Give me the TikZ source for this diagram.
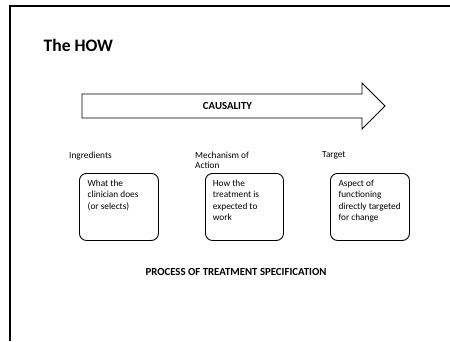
\documentclass[tikz,border=0pt]{standalone}
\usepackage{fontspec}
\setmainfont{Carlito}
\begin{document}
\begin{tikzpicture}[x=1pt,y=-1pt,
  frameline/.style={line width=2pt,black},
  stagebox/.style={draw,line width=0.9pt,rounded corners=7pt,minimum width=79pt,minimum height=67pt,inner sep=0pt,anchor=north west},
  boxtext/.style={anchor=north west,inner sep=0pt,align=left,font=\fontsize{9.3}{11.3}\selectfont},
  stagelabel/.style={anchor=north west,inner sep=0pt,align=left,font=\fontsize{9.3}{10.5}\selectfont},
  boldcaps/.style={inner sep=0pt,font=\bfseries\fontsize{10.8}{13}\selectfont}]
  \useasboundingbox (0,0) rectangle (450,341);
  \fill[white] (0,0) rectangle (450,341);

  % slide frame
  \draw[frameline] (450,5.8) -- (9.5,5.8) -- (9.5,341);

  % title
  \node[anchor=base west,inner sep=0pt,font=\bfseries\fontsize{17.5}{21}\selectfont] (title) at (43.5,51.7) {The HOW};

  % causality arrow
  \draw[line width=0.8pt] (82,94) -- (362,94) -- (362,83) -- (385,106) -- (362,129) -- (362,118) -- (82,118) -- cycle;
  \node[boldcaps] (causality) at (227.5,106) {CAUSALITY};

  % stage labels
  \node[stagelabel] (ingr) at (69,151.5) {Ingredients};
  \node[stagelabel] (mech) at (195,151.5) {Mechanism of\\Action};
  \node[stagelabel] (targ) at (322,151.5) {Target};

  % stage boxes
  \node[stagebox] (box1) at (79,173) {};
  \node[stagebox,minimum width=78pt] (box2) at (205,173) {};
  \node[stagebox] (box3) at (330,173) {};

  \node[boxtext] (t1) at (87.5,180) {What the\\clinician does\\(or selects)};
  \node[boxtext] (t2) at (212.7,180) {How the\\treatment is\\expected to\\work};
  \node[boxtext] (t3) at (338.3,180) {Aspect of\\functioning\\directly targeted\\for change};

  % caption
  \node[boldcaps] (process) at (236,271.7) {PROCESS OF TREATMENT SPECIFICATION};
\end{tikzpicture}
\end{document}
